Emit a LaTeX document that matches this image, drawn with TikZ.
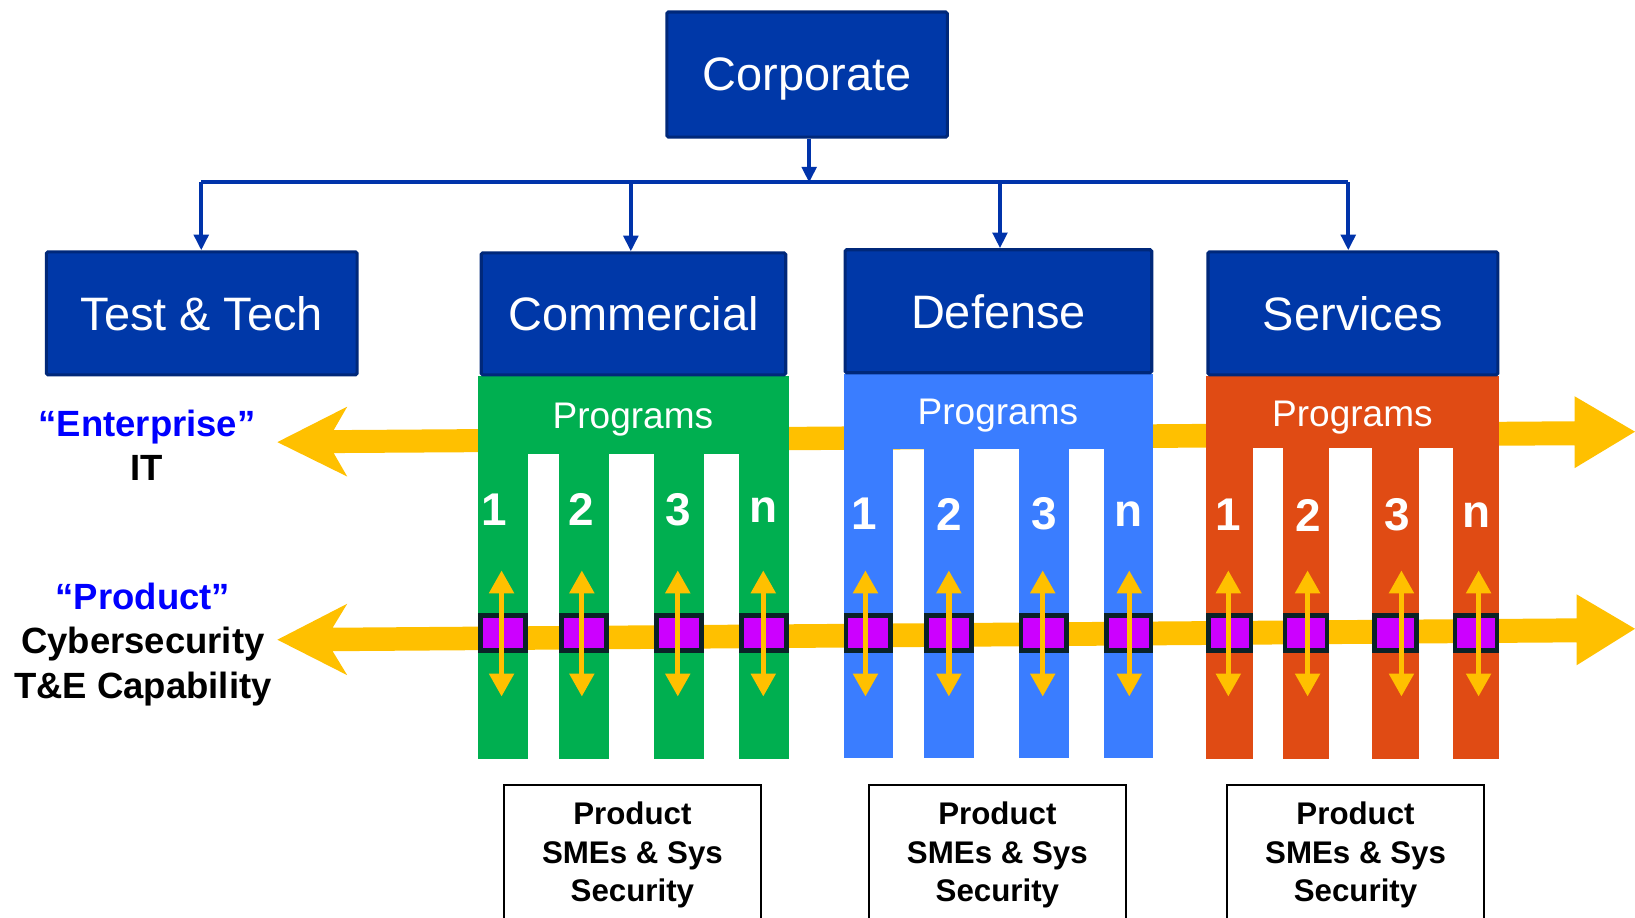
\documentclass[tikz,border=0pt]{standalone}
\usepackage{fontspec}
\setmainfont{Liberation Sans}
\usetikzlibrary{arrows.meta}
\definecolor{boxblue}{HTML}{0038A8}
\definecolor{boxedge}{HTML}{00287A}
\definecolor{connblue}{HTML}{0033AA}
\definecolor{pgreen}{HTML}{00AF50}
\definecolor{pblue}{HTML}{3A7DFF}
\definecolor{porange}{HTML}{E04B14}
\definecolor{ayellow}{HTML}{FFC000}
\definecolor{purp}{HTML}{CC00FF}
\definecolor{purpedge}{HTML}{0A2228}
\definecolor{labelblue}{HTML}{0000FF}
\tikzset{
  titlebox/.style={draw=boxedge, fill=boxblue, line width=3pt, rounded corners=1.5pt,
    text=white, inner sep=0pt, text depth=0pt, font=\fontsize{45}{54}\selectfont},
  conn/.style={draw=connblue, line width=3.5pt},
  connarrow/.style={conn, -{Triangle[width=14pt,length=15pt]}},
  proglbl/.style={text=white, inner sep=0pt, text depth=0pt, font=\fontsize{35.5}{40}\selectfont},
  numlbl/.style={text=white, inner sep=0pt, font=\bfseries\fontsize{44}{50}\selectfont},
  pbox/.style={draw=purpedge, fill=purp, line width=4.5pt},
  vdarrow/.style={draw=ayellow, line width=5pt,
    {Triangle[width=23pt,length=22pt]}-{Triangle[width=23pt,length=22pt]}},
  sidelbl/.style={align=center, inner sep=0pt, font=\bfseries\fontsize{35}{42.5}\selectfont},
  smebox/.style={draw=black, line width=2pt, fill=white, minimum width=247pt,
    minimum height=134pt, align=center, inner sep=0pt,
    font=\bfseries\fontsize{30}{37}\selectfont}
}
\begin{document}
\begin{tikzpicture}[x=1pt,y=-1pt]
\useasboundingbox (0,0) rectangle (1568,880);
\clip (0,0) rectangle (1568,880);

% yellow horizontal arrows (behind)
\fill[ayellow] (266,424) -- (333,390) -- (320,412.5) -- (1510,404) -- (1510,380)
  -- (1568,414) -- (1510,449) -- (1510,427) -- (320,434.5) -- (333,457) -- cycle;
\fill[ayellow] (266,613.5) -- (333,579) -- (319,602) -- (1512,593) -- (1512,570)
  -- (1568,603) -- (1512,638) -- (1512,616) -- (319,624.5) -- (333,647.5) -- cycle;

% program blocks
\fill[pgreen] (458.7,361) rectangle (756.7,435.4);
\foreach \a/\b in {458.7/506.4, 536.1/584.1, 627.2/675.2, 708.7/756.7}
  \fill[pgreen] (\a,435) rectangle (\b,728);
\fill[pblue] (809,359) rectangle (1106,430.5);
\foreach \a/\b in {809/856, 886/934, 977/1025, 1059/1106}
  \fill[pblue] (\a,430) rectangle (\b,727);
\fill[porange] (1157,361) rectangle (1438,430);
\foreach \a/\b in {1157/1202, 1230/1275, 1316/1361, 1393/1438}
  \fill[porange] (\a,429.5) rectangle (\b,728);

% purple boxes
\foreach \a/\b in {458.7/506.4, 536.1/584.1, 627.2/675.2, 708.7/756.7,
                   809/856, 886/934, 977/1025, 1059/1106,
                   1157/1202, 1230/1275, 1316/1361, 1393/1438}
  \draw[pbox] ({\a+2.25},590.25) rectangle ({\b-2.25},623.75);

% vertical double arrows
\foreach \x in {481,558,650,732,830,910,1000,1083,1178,1254,1344,1418}
  \draw[vdarrow] (\x,547) -- (\x,668);

% title boxes
\node[titlebox, minimum width=269pt, minimum height=120pt] (corp) at (774,71.5) {Corporate};
\node[titlebox, minimum width=298pt, minimum height=118pt] (tt) at (193.5,300.5) {Test \& Tech};
\node[titlebox, minimum width=292pt, minimum height=117pt] (comm) at (607.5,301) {Commercial};
\node[titlebox, minimum width=294pt, minimum height=118pt] (def) at (957.5,298.5) {Defense};
\node[titlebox, minimum width=278pt, minimum height=118pt] (serv) at (1297.5,300.5) {Services};

% connectors
\coordinate (hub) at (776,175);
\coordinate (c1) at (193,174.5);
\coordinate (c2) at (605,174.5);
\coordinate (c3) at (959,174.5);
\coordinate (c4) at (1293,174.5);
\draw[connarrow] (corp.south -| hub) -- (hub);
\draw[conn] (c1) -- (c4);
\draw[connarrow] (c1) -- (c1 |- tt.north);
\draw[connarrow] (c2) -- (c2 |- comm.north);
\draw[connarrow] (c3) -- (c3 |- def.north);
\draw[connarrow] (c4) -- (c4 |- serv.north);

% Programs labels
\node[proglbl] (pg) at (607,399) {Programs};
\node[proglbl] (pb) at (957,395) {Programs};
\node[proglbl] (po) at (1297,397) {Programs};

% numbers
\node[numlbl] (g1) at (474,489) {1};
\node[numlbl] (g2) at (557,489) {2};
\node[numlbl] (g3) at (650,489) {3};
\node[numlbl] (g4) at (732,489) {n};
\node[numlbl] (b1) at (829,493) {1};
\node[numlbl] (b2) at (910,493) {2};
\node[numlbl] (b3) at (1001,493) {3};
\node[numlbl] (b4) at (1082,493) {n};
\node[numlbl] (o1) at (1178,494) {1};
\node[numlbl] (o2) at (1255,494) {2};
\node[numlbl] (o3) at (1340,494) {3};
\node[numlbl] (o4) at (1416,494) {n};

% side labels
\node[sidelbl] (ent) at (141,427) {\textcolor{labelblue}{“Enterprise”}\\IT};
\node[sidelbl] (prod) at (137,618) {\textcolor{labelblue}{“Product”}\\Cybersecurity\\T\&E Capability};

% bottom boxes
\node[smebox] (s1) at (606.5,820) {Product\\SMEs \& Sys\\Security};
\node[smebox] (s2) at (956.5,820) {Product\\SMEs \& Sys\\Security};
\node[smebox] (s3) at (1300,820) {Product\\SMEs \& Sys\\Security};
\end{tikzpicture}
\end{document}
